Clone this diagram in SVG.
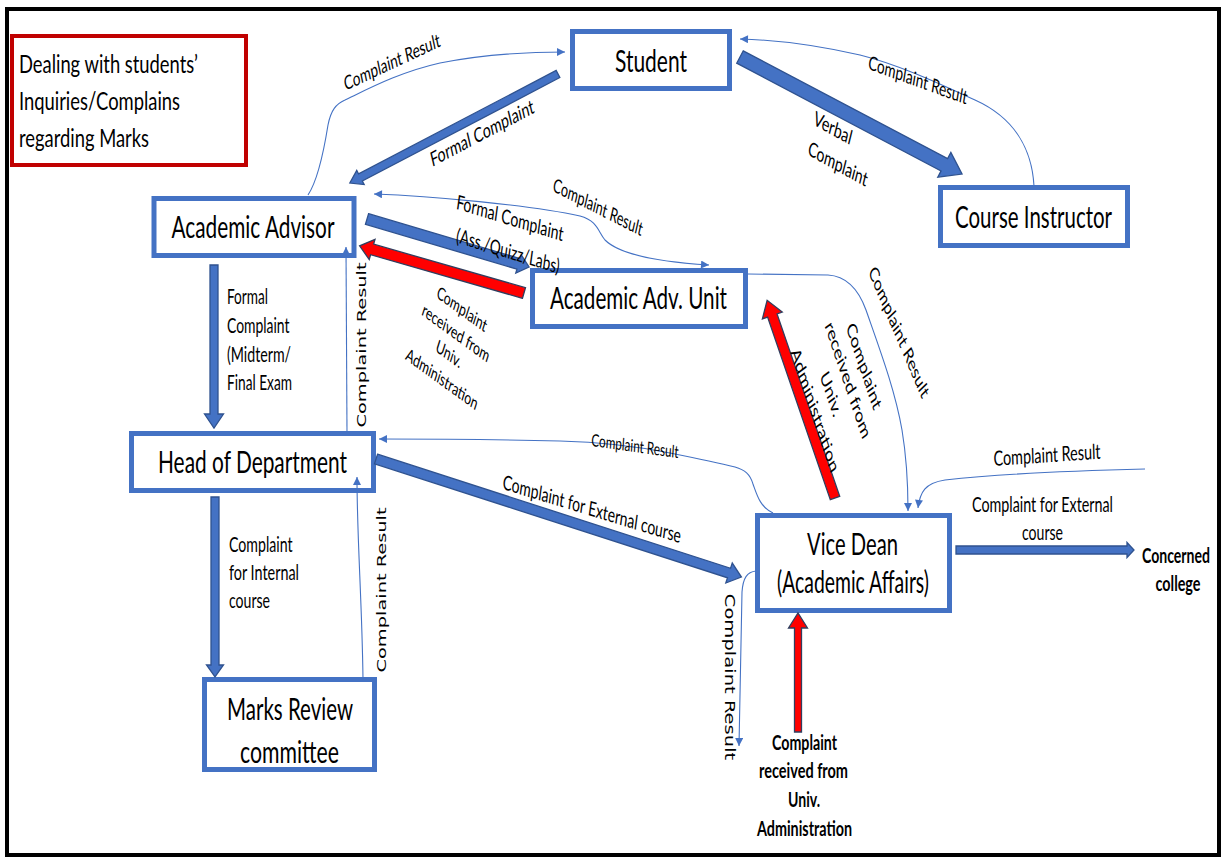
<svg xmlns="http://www.w3.org/2000/svg" width="1223" height="858" viewBox="0 0 1223 858">
<defs>
<style>
.box{fill:#fff;stroke:#4472C4;stroke-width:5}
.t{font-family:Lato,"Liberation Sans",sans-serif;fill:#000}
.v{font-family:"DejaVu Sans",sans-serif;fill:#000}
.b{font-weight:bold}
.thin{fill:none;stroke:#4472C4;stroke-width:1.1}
.blk{fill:#4472C4;stroke:#2F528F;stroke-width:1.3}
.red{fill:#FF0000;stroke:#2F3E5F;stroke-width:1.3}
</style>
<marker id="ah" viewBox="0 0 10 10" refX="10" refY="5" markerWidth="9" markerHeight="8" markerUnits="userSpaceOnUse" orient="auto-start-reverse"><path d="M0,0 L10,5 L0,10 z" fill="#4472C4"/></marker>
</defs>
<rect x="0" y="0" width="1223" height="858" fill="#fff"/>
<rect x="7" y="9" width="1212" height="846" fill="none" stroke="#000" stroke-width="4"/>

<g id="title">
<rect x="12" y="36" width="234" height="129" fill="#fff" stroke="#C00000" stroke-width="4"/>
<text class="t" font-size="17" textLength="179" lengthAdjust="spacingAndGlyphs" transform="translate(19,73) scale(1,1.5)">Dealing with students’</text>
<text class="t" font-size="17" textLength="161" lengthAdjust="spacingAndGlyphs" transform="translate(19,110) scale(1,1.5)">Inquiries/Complains</text>
<text class="t" font-size="17" textLength="130" lengthAdjust="spacingAndGlyphs" transform="translate(19,147) scale(1,1.5)">regarding Marks</text>
</g>

<g id="student">
<rect class="box" x="572.5" y="31.5" width="157" height="57"/>
<text class="t" font-size="20.5" text-anchor="middle" textLength="72" lengthAdjust="spacingAndGlyphs" transform="translate(651,71.5) scale(1,1.5)">Student</text>
</g>
<g id="course-instructor">
<rect class="box" x="940.5" y="187.5" width="187" height="58"/>
<text class="t" font-size="20.5" text-anchor="middle" textLength="157" lengthAdjust="spacingAndGlyphs" transform="translate(1033.5,228) scale(1,1.5)">Course Instructor</text>
</g>
<g id="academic-advisor">
<rect class="box" x="154" y="198.5" width="200" height="57"/>
<text class="t" font-size="20.5" text-anchor="middle" textLength="163" lengthAdjust="spacingAndGlyphs" transform="translate(253,238) scale(1,1.5)">Academic Advisor</text>
</g>
<g id="academic-adv-unit">
<rect class="box" x="532.5" y="270.5" width="213" height="56"/>
<text class="t" font-size="20.5" text-anchor="middle" textLength="177" lengthAdjust="spacingAndGlyphs" transform="translate(638.5,309) scale(1,1.5)">Academic Adv. Unit</text>
</g>
<g id="head-of-department">
<rect class="box" x="131.5" y="433.5" width="242" height="57"/>
<text class="t" font-size="20.5" text-anchor="middle" textLength="189" lengthAdjust="spacingAndGlyphs" transform="translate(252.5,473) scale(1,1.5)">Head of Department</text>
</g>
<g id="marks-review-committee">
<rect class="box" x="204.5" y="679.5" width="170" height="90"/>
<text class="t" font-size="20.5" text-anchor="middle" textLength="126" lengthAdjust="spacingAndGlyphs" transform="translate(290,720) scale(1,1.5)">Marks Review</text>
<text class="t" font-size="20.5" text-anchor="middle" textLength="99" lengthAdjust="spacingAndGlyphs" transform="translate(289.5,763) scale(1,1.5)">committee</text>
</g>
<g id="vice-dean">
<rect class="box" x="757.5" y="515.5" width="192" height="95"/>
<text class="t" font-size="20.5" text-anchor="middle" textLength="91" lengthAdjust="spacingAndGlyphs" transform="translate(852.5,555) scale(1,1.5)">Vice Dean</text>
<text class="t" font-size="20.5" text-anchor="middle" textLength="152" lengthAdjust="spacingAndGlyphs" transform="translate(853,593) scale(1,1.5)">(Academic Affairs)</text>
</g>
<g id="concerned-college">
<text class="t b" font-size="13.5" text-anchor="middle" textLength="68" lengthAdjust="spacingAndGlyphs" transform="translate(1176,563) scale(1,1.5)">Concerned</text>
<text class="t b" font-size="13.5" text-anchor="middle" textLength="45" lengthAdjust="spacingAndGlyphs" transform="translate(1178,591) scale(1,1.5)">college</text>
</g>
<g id="univ-administration">
<text class="t b" font-size="13.5" text-anchor="middle" textLength="65" lengthAdjust="spacingAndGlyphs" transform="translate(804.5,750) scale(1,1.5)">Complaint</text>
<text class="t b" font-size="13.5" text-anchor="middle" textLength="89" lengthAdjust="spacingAndGlyphs" transform="translate(803.5,778) scale(1,1.5)">received from</text>
<text class="t b" font-size="13.5" text-anchor="middle" textLength="32" lengthAdjust="spacingAndGlyphs" transform="translate(804,807) scale(1,1.5)">Univ.</text>
<text class="t b" font-size="13.5" text-anchor="middle" textLength="95" lengthAdjust="spacingAndGlyphs" transform="translate(804.5,836) scale(1,1.5)">Administration</text>
</g>

<g id="connectors">
<path class="thin" marker-end="url(#ah)" d="M308,195 C318,180 324,150 328,125 C331,110 336,104 345,100 C370,88 400,72 440,63 C480,55 520,52 565,52"/>
<path class="thin" marker-end="url(#ah)" d="M1034,186 C1032,150 1015,118 975,100 C940,84 900,65 860,55 C820,46 780,40 740,39"/>
<path class="thin" marker-start="url(#ah)" marker-end="url(#ah)" d="M374,194 C430,196 530,205 580,216 C598,221 598,232 605,240 C620,255 660,262 709,265"/>
<path class="thin" marker-end="url(#ah)" d="M748,274 L828,275 C845,276 858,288 866,310 C880,350 895,390 902,430 C907,460 908,485 908,511"/>
<path class="thin" marker-end="url(#ah)" d="M347,432 L346,247"/>
<path class="thin" marker-end="url(#ah)" d="M363,679 C362,600 357,540 357,477"/>
<path class="thin" marker-end="url(#ah)" d="M773,513 C760,507 757,495 753,484 C750,474 745,470 735,467 C715,462 690,457 670,453 C640,447 600,442 560,441 C480,439 420,439 379,439"/>
<path class="thin" marker-end="url(#ah)" d="M756,571 C747,572 743,578 742,592 L739,746"/>
<path class="thin" marker-end="url(#ah)" d="M1145,469 C1060,471 990,475 945,480 C925,483 920,492 918,508"/>

<polygon class="blk" transform="translate(558,74) rotate(152.35)" points="0,-4 223,-4 223,-8 235,0 223,8 223,4 0,4"/>
<polygon class="blk" transform="translate(740,57) rotate(27.8)" points="0,-7 231,-7 231,-14 251,0 231,14 231,7 0,7"/>
<polygon class="blk" transform="translate(367,219) rotate(16.5)" points="0,-5.5 158,-5.5 158,-9.5 169,0 158,9.5 158,5.5 0,5.5"/>
<polygon class="red" transform="translate(524,293) rotate(196)" points="0,-5.5 158,-5.5 158,-10.5 171,0 158,10.5 158,5.5 0,5.5"/>
<polygon class="blk" points="210,265 218,265 218,414 223.5,414 214,428 204.5,414 210,414"/>
<polygon class="blk" points="211,497 219,497 219,665 223.5,665 215,677 206.5,665 211,665"/>
<polygon class="blk" transform="translate(376,459) rotate(17.9)" points="0,-5 371,-5 371,-10.5 384,0 371,10.5 371,5 0,5"/>
<polygon class="blk" points="956,546 1127,546 1127,542.5 1134,550 1127,557.5 1127,554 956,554"/>
<polygon class="red" transform="translate(835,498) rotate(-108.95)" points="0,-5 193,-5 193,-10.5 209,0 193,10.5 193,5 0,5"/>
<polygon class="red" points="794.5,732 801.5,732 801.5,628 807.5,628 798,613 788.5,628 794.5,628"/>

<g id="edge-labels">
<text class="t" font-size="13" text-anchor="middle" dy="0.35em" textLength="100" lengthAdjust="spacingAndGlyphs" transform="translate(392,62) scale(1,1.5) rotate(-17.3)">Complaint Result</text>
<text class="t" font-size="13" text-anchor="middle" dy="0.35em" textLength="101.5" lengthAdjust="spacingAndGlyphs" transform="translate(918,80) scale(1,1.5) rotate(13.6)">Complaint Result</text>
<text class="t" font-size="13.5" text-anchor="middle" dy="0.35em" textLength="109" lengthAdjust="spacingAndGlyphs" transform="translate(482,133) scale(1,1.5) rotate(-19.5)">Formal Complaint</text>
<text class="t" font-size="13.5" text-anchor="middle" dy="0.35em" textLength="40" lengthAdjust="spacingAndGlyphs" transform="translate(833,128) scale(1,1.5) rotate(20.3)">Verbal</text>
<text class="t" font-size="13.5" text-anchor="middle" dy="0.35em" textLength="62.7" lengthAdjust="spacingAndGlyphs" transform="translate(838,164) scale(1,1.5) rotate(20.3)">Complaint</text>
<text class="t" font-size="13.5" text-anchor="middle" dy="0.35em" textLength="109" lengthAdjust="spacingAndGlyphs" transform="translate(510,218) scale(1,1.5) rotate(11.5)">Formal Complaint</text>
<text class="t" font-size="13.5" text-anchor="middle" dy="0.35em" textLength="105" lengthAdjust="spacingAndGlyphs" transform="translate(508,251) scale(1,1.5) rotate(11.5)">(Ass./Quizz/Labs)</text>
<text class="t" font-size="12" text-anchor="middle" dy="0.35em" textLength="54.4" lengthAdjust="spacingAndGlyphs" transform="translate(462,309) scale(1,1.5) rotate(25.8)">Complaint</text>
<text class="t" font-size="12" text-anchor="middle" dy="0.35em" textLength="73.8" lengthAdjust="spacingAndGlyphs" transform="translate(456,333) scale(1,1.5) rotate(25.8)">received from</text>
<text class="t" font-size="12" text-anchor="middle" dy="0.35em" textLength="27.4" lengthAdjust="spacingAndGlyphs" transform="translate(449,354) scale(1,1.5) rotate(25.8)">Univ.</text>
<text class="t" font-size="12" text-anchor="middle" dy="0.35em" textLength="78.7" lengthAdjust="spacingAndGlyphs" transform="translate(442,379) scale(1,1.5) rotate(25.8)">Administration</text>
<text class="t" font-size="13" text-anchor="middle" dy="0.35em" textLength="94" lengthAdjust="spacingAndGlyphs" transform="translate(598,207) scale(1,1.5) rotate(18.8)">Complaint Result</text>
<text class="t" font-size="13.5" text-anchor="middle" dy="0.35em" textLength="101" lengthAdjust="spacingAndGlyphs" transform="translate(899,332) scale(1,1.5) rotate(57.5)">Complaint Result</text>
<text class="t" font-size="13.8" text-anchor="middle" dy="0.35em" textLength="62.7" lengthAdjust="spacingAndGlyphs" transform="translate(864,366) scale(1,1.5) rotate(63.4)">Complaint</text>
<text class="t" font-size="13.8" text-anchor="middle" dy="0.35em" textLength="85.2" lengthAdjust="spacingAndGlyphs" transform="translate(848,380) scale(1,1.5) rotate(63.4)">received from</text>
<text class="t" font-size="13.8" text-anchor="middle" dy="0.35em" textLength="31.7" lengthAdjust="spacingAndGlyphs" transform="translate(831,394) scale(1,1.5) rotate(63.4)">Univ.</text>
<text class="t" font-size="13.8" text-anchor="middle" dy="0.35em" textLength="90.8" lengthAdjust="spacingAndGlyphs" transform="translate(815,410) scale(1,1.5) rotate(63.4)">Administration</text>
<text class="t" font-size="13.5" text-anchor="middle" dy="0.35em" textLength="181.6" lengthAdjust="spacingAndGlyphs" transform="translate(592,509) scale(1,1.5) rotate(11.5)">Complaint for External course</text>
<text class="t" font-size="11.5" text-anchor="middle" dy="0.35em" textLength="87.4" lengthAdjust="spacingAndGlyphs" transform="translate(635,446) scale(1,1.5) rotate(5.35)">Complaint Result</text>
<text class="t" font-size="14" text-anchor="middle" dy="0.35em" textLength="107" lengthAdjust="spacingAndGlyphs" transform="translate(1047,455) scale(1,1.5) rotate(-2.6)">Complaint Result</text>
<text class="v" font-size="12.8" text-anchor="middle" dy="0.35em" textLength="110" lengthAdjust="spacingAndGlyphs" transform="translate(362,345) scale(1,1.5) rotate(-90)">Complaint Result</text>
<text class="v" font-size="12.8" text-anchor="middle" dy="0.35em" textLength="110" lengthAdjust="spacingAndGlyphs" transform="translate(382,590) scale(1,1.5) rotate(-90)">Complaint Result</text>
<text class="v" font-size="14" text-anchor="middle" dy="0.35em" textLength="111" lengthAdjust="spacingAndGlyphs" transform="translate(730,677) scale(1,1.5) rotate(90)">Complaint Result</text>
<text class="t" font-size="13.5" textLength="41" lengthAdjust="spacingAndGlyphs" transform="translate(227,304) scale(1,1.5)">Formal</text>
<text class="t" font-size="13.5" textLength="62.5" lengthAdjust="spacingAndGlyphs" transform="translate(227,333) scale(1,1.5)">Complaint</text>
<text class="t" font-size="13.5" textLength="64" lengthAdjust="spacingAndGlyphs" transform="translate(227,362) scale(1,1.5)">(Midterm/</text>
<text class="t" font-size="13.5" textLength="65" lengthAdjust="spacingAndGlyphs" transform="translate(227,390) scale(1,1.5)">Final Exam</text>
<text class="t" font-size="13.5" textLength="63.5" lengthAdjust="spacingAndGlyphs" transform="translate(229,552) scale(1,1.5)">Complaint</text>
<text class="t" font-size="13.5" textLength="70" lengthAdjust="spacingAndGlyphs" transform="translate(229,580) scale(1,1.5)">for Internal</text>
<text class="t" font-size="13.5" textLength="41" lengthAdjust="spacingAndGlyphs" transform="translate(229,608) scale(1,1.5)">course</text>
<text class="t" font-size="13.5" text-anchor="middle" textLength="141" lengthAdjust="spacingAndGlyphs" transform="translate(1042.5,512) scale(1,1.5)">Complaint for External</text>
<text class="t" font-size="13.5" text-anchor="middle" textLength="41" lengthAdjust="spacingAndGlyphs" transform="translate(1042.5,540) scale(1,1.5)">course</text>
</g>
</g>
</svg>
